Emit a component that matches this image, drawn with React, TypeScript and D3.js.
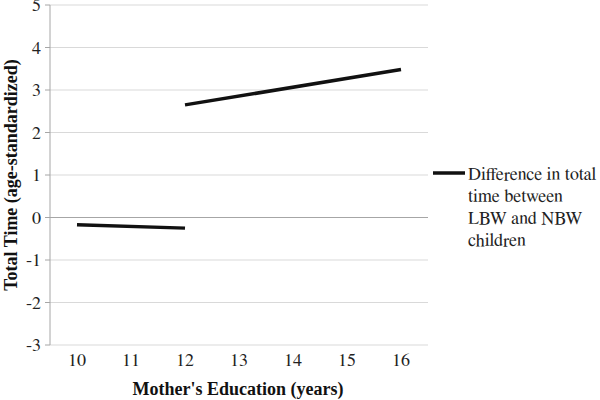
import React from "react";
import * as d3 from "d3";

const categories = ["10", "11", "12", "13", "14", "15", "16"];
const yTicks = [-3, -2, -1, 0, 1, 2, 3, 4, 5];
const segmentA = [
  { x: "10", y: -0.17 },
  { x: "12", y: -0.25 },
];
const segmentB = [
  { x: "12", y: 2.65 },
  { x: "16", y: 3.48 },
];
const legendLines = ["Difference in total", "time between", "LBW and NBW", "children"];

export default function App() {
  const W = 600, H = 400;
  const left = 50, right = 428, top = 5, bottom = 345;
  const x = d3.scaleBand().domain(categories).range([left, right]);
  const y = d3.scaleLinear().domain([-3, 5]).range([bottom, top]);
  const cx = (c: string) => (x(c) as number) + x.bandwidth() / 2;
  const line = d3.line<{ x: string; y: number }>().x((d) => cx(d.x)).y((d) => y(d.y));
  const font = "FreeSerif, Liberation Serif, serif";
  const fsz = 18;
  return (
    <svg width={W} height={H} style={{ position: "absolute", left: 0, top: 0 }}>
      <rect width={W} height={H} fill="#fff" />
      {yTicks.map((t) => (
        <g key={t}>
          <line x1={left} x2={right} y1={y(t)} y2={y(t)} stroke={t === 0 ? "#a6a6a6" : "#d9d9d9"} strokeWidth={1} />
          <line x1={left - 5} x2={left} y1={y(t)} y2={y(t)} stroke="#a6a6a6" strokeWidth={1} />
          <text x={left - 9} y={y(t) + 6} textAnchor="end" fontFamily={font} fontSize={fsz} fill="#222">
            {t}
          </text>
        </g>
      ))}
      <line x1={left} x2={left} y1={top} y2={bottom} stroke="#a6a6a6" strokeWidth={1} />
      {categories.map((c) => (
        <text key={c} x={cx(c)} y={bottom + 21} textAnchor="middle" fontFamily={font} fontSize={fsz} fill="#222">
          {c}
        </text>
      ))}
      <path d={line(segmentA) || ""} fill="none" stroke="#111" strokeWidth={3.5} />
      <path d={line(segmentB) || ""} fill="none" stroke="#111" strokeWidth={3.5} />
      <text x={238} y={395} textAnchor="middle" fontFamily="Liberation Serif" fontSize={fsz} fontWeight="bold" fill="#111">
        Mother's Education (years)
      </text>
      <text
        transform={`translate(17, ${(top + bottom) / 2}) rotate(-90)`}
        textAnchor="middle"
        fontFamily="Liberation Serif"
        fontSize={fsz}
        fontWeight="bold"
        fill="#111"
      >
        Total Time (age-standardized)
      </text>
      <line x1={433} x2={465} y1={173} y2={173} stroke="#111" strokeWidth={3.5} />
      {legendLines.map((l, i) => (
        <text key={i} x={468} y={180 + i * 22} fontFamily={font} fontSize={fsz} fill="#222">
          {l}
        </text>
      ))}
    </svg>
  );
}
